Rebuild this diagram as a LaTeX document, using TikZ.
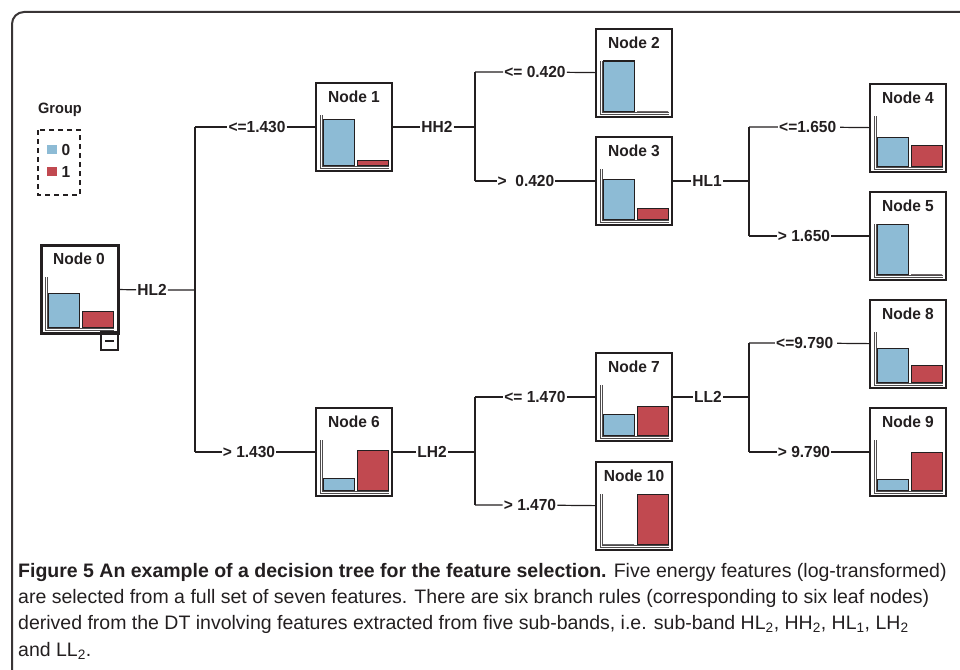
\documentclass[tikz,border=0pt]{standalone}
\usepackage{fontspec}
\setmainfont{Liberation Sans}
\newfontfamily\treefont[FakeStretch=0.97]{Liberation Sans}
\newfontfamily\capfont{Liberation Sans}
\definecolor{barblue}{RGB}{141,187,213}
\definecolor{barred}{RGB}{193,73,80}
\definecolor{ink}{RGB}{35,31,32}
% one box of the tree: name, top-left corner, number, blue bar, red bar
\newcommand{\treenode}[6][]{%
  \node[treebox,#1,anchor=north west] (#2) at #3 {};
  \begin{scope}[shift={#3}]
    \node[treetitle] at (38,14) {Node #4};
    \draw[axisline] (4,32) -- (4,85) -- (73,85);
    \draw[axisline] (6,32) -- (6,83) -- (73,83);
    \draw[bar,fill=barblue] (7,82-#5) rectangle (38,82);
    \draw[bar,fill=barred] (41,82-#6) rectangle (72,82);
  \end{scope}}

\begin{document}
\begin{tikzpicture}[x=1pt,y=-1pt,
  treebox/.style={draw=ink,line width=1.4pt,minimum width=76pt,minimum height=88pt,inner sep=0pt,outer sep=0pt},
  treetitle/.style={font=\treefont\bfseries\fontsize{16}{16}\selectfont,text=ink},
  axisline/.style={draw=ink!80,line width=0.7pt},
  bar/.style={draw=ink,line width=1pt},
  split/.style={font=\treefont\bfseries\fontsize{16}{16}\selectfont,text=ink,inner sep=1pt},
  link/.style={draw=ink,line width=1.2pt}]
\useasboundingbox (0,0) rectangle (960,669);
\clip (0,0) rectangle (960,669);
\draw[ink!90,line width=2pt,rounded corners=12pt] (975,12) -- (12,12) -- (12,690);

% legend
\node[font=\treefont\bfseries\fontsize{15}{15}\selectfont,text=ink] (lg) at (60,110) {Group};
\draw[ink,line width=1.2pt,dash pattern=on 5pt off 4pt] (38,130) rectangle (80,195);
\fill[barblue] (47,145) rectangle (57,154);
\fill[barred] (47,167) rectangle (57,176);
\node[split] (lg0) at (66,150) {0};
\node[split] (lg1) at (66,172) {1};

% tree boxes
\treenode[line width=3pt,minimum width=77pt]{n0}{(41,245)}{0}{34}{16}
\draw[ink,line width=1.2pt] (101,332) rectangle (118,350);
\draw[ink,line width=1.2pt] (105,341) -- (114,341);
\treenode{n1}{(316,83)}{1}{46}{5}
\treenode{n2}{(596,29)}{2}{50}{0}
\treenode{n3}{(596,137)}{3}{40}{11}
\treenode{n4}{(870,84)}{4}{29}{21}
\treenode{n5}{(870,192)}{5}{50}{0}
\treenode{n6}{(316,408)}{6}{12}{40}
\treenode{n7}{(596,353)}{7}{21}{29}
\treenode{n8}{(870,300)}{8}{34}{17}
\treenode{n9}{(870,408)}{9}{11}{38}
\treenode{n10}{(596,462)}{10}{0}{50}

% split variables
\node[split] (s0) at (152,290) {HL2};
\node[split] (s1) at (437,127) {HH2};
\node[split] (s3) at (707,181) {HL1};
\node[split] (s6) at (432,452) {LH2};
\node[split] (s7) at (708,397) {LL2};

% conditions
\node[split] (c1) at (257,127) {<=1.430};
\node[split] (c6) at (249,452) {> 1.430};
\node[split] (c2) at (535,72) {<= 0.420};
\node[split] (c3) at (526,181) {>\ \ 0.420};
\node[split] (c4) at (809,127) {<=1.650\,};
\node[split] (c5) at (804,236) {> 1.650};
\node[split] (c7) at (535,397) {<= 1.470};
\node[split] (c10) at (530,505) {> 1.470};
\node[split] (c8) at (806,343) {<=9.790\,};
\node[split] (c9) at (804,452) {> 9.790};

% junctions
\coordinate (j0) at (195,290);
\coordinate (j0t) at (195,127);
\coordinate (j0b) at (195,452);
\coordinate (j1) at (475,127);
\coordinate (j1t) at (475,72);
\coordinate (j1b) at (475,181);
\coordinate (j3) at (749,181);
\coordinate (j3t) at (749,127);
\coordinate (j3b) at (749,236);
\coordinate (j6) at (475,452);
\coordinate (j6t) at (475,397);
\coordinate (j6b) at (475,505);
\coordinate (j7) at (749,397);
\coordinate (j7t) at (749,343);
\coordinate (j7b) at (749,452);

\draw[link] (n0) -- (s0) -- (j0);
\draw[link] (j0t) -- (j0b);
\draw[link] (j0t) -- (c1) -- (n1);
\draw[link] (j0b) -- (c6) -- (n6);
\draw[link] (n1) -- (s1) -- (j1);
\draw[link] (j1t) -- (j1b);
\draw[link] (j1t) -- (c2) -- (n2);
\draw[link] (j1b) -- (c3) -- (n3);
\draw[link] (n3) -- (s3) -- (j3);
\draw[link] (j3t) -- (j3b);
\draw[link] (j3t) -- (c4) -- (n4);
\draw[link] (j3b) -- (c5) -- (n5);
\draw[link] (n6) -- (s6) -- (j6);
\draw[link] (j6t) -- (j6b);
\draw[link] (j6t) -- (c7) -- (n7);
\draw[link] (j6b) -- (c10) -- (n10);
\draw[link] (n7) -- (s7) -- (j7);
\draw[link] (j7t) -- (j7b);
\draw[link] (j7t) -- (c8) -- (n8);
\draw[link] (j7b) -- (c9) -- (n9);

% caption
\node[anchor=base west,align=left,inner sep=0pt,text=ink,
  font=\capfont\fontsize{19.5}{26.2}\selectfont] (cap) at (18,656)
  {\textbf{Figure 5 An example of a decision tree for the feature selection.} Five energy features (log-transformed)\\
  are selected from a full set of seven features. There are six branch rules (corresponding to six leaf nodes)\\
  derived from the DT involving features extracted from five sub-bands, i.e. sub-band HL\textsubscript{2}, HH\textsubscript{2}, HL\textsubscript{1}, LH\textsubscript{2}\\
  and LL\textsubscript{2}.};
\end{tikzpicture}
\end{document}
